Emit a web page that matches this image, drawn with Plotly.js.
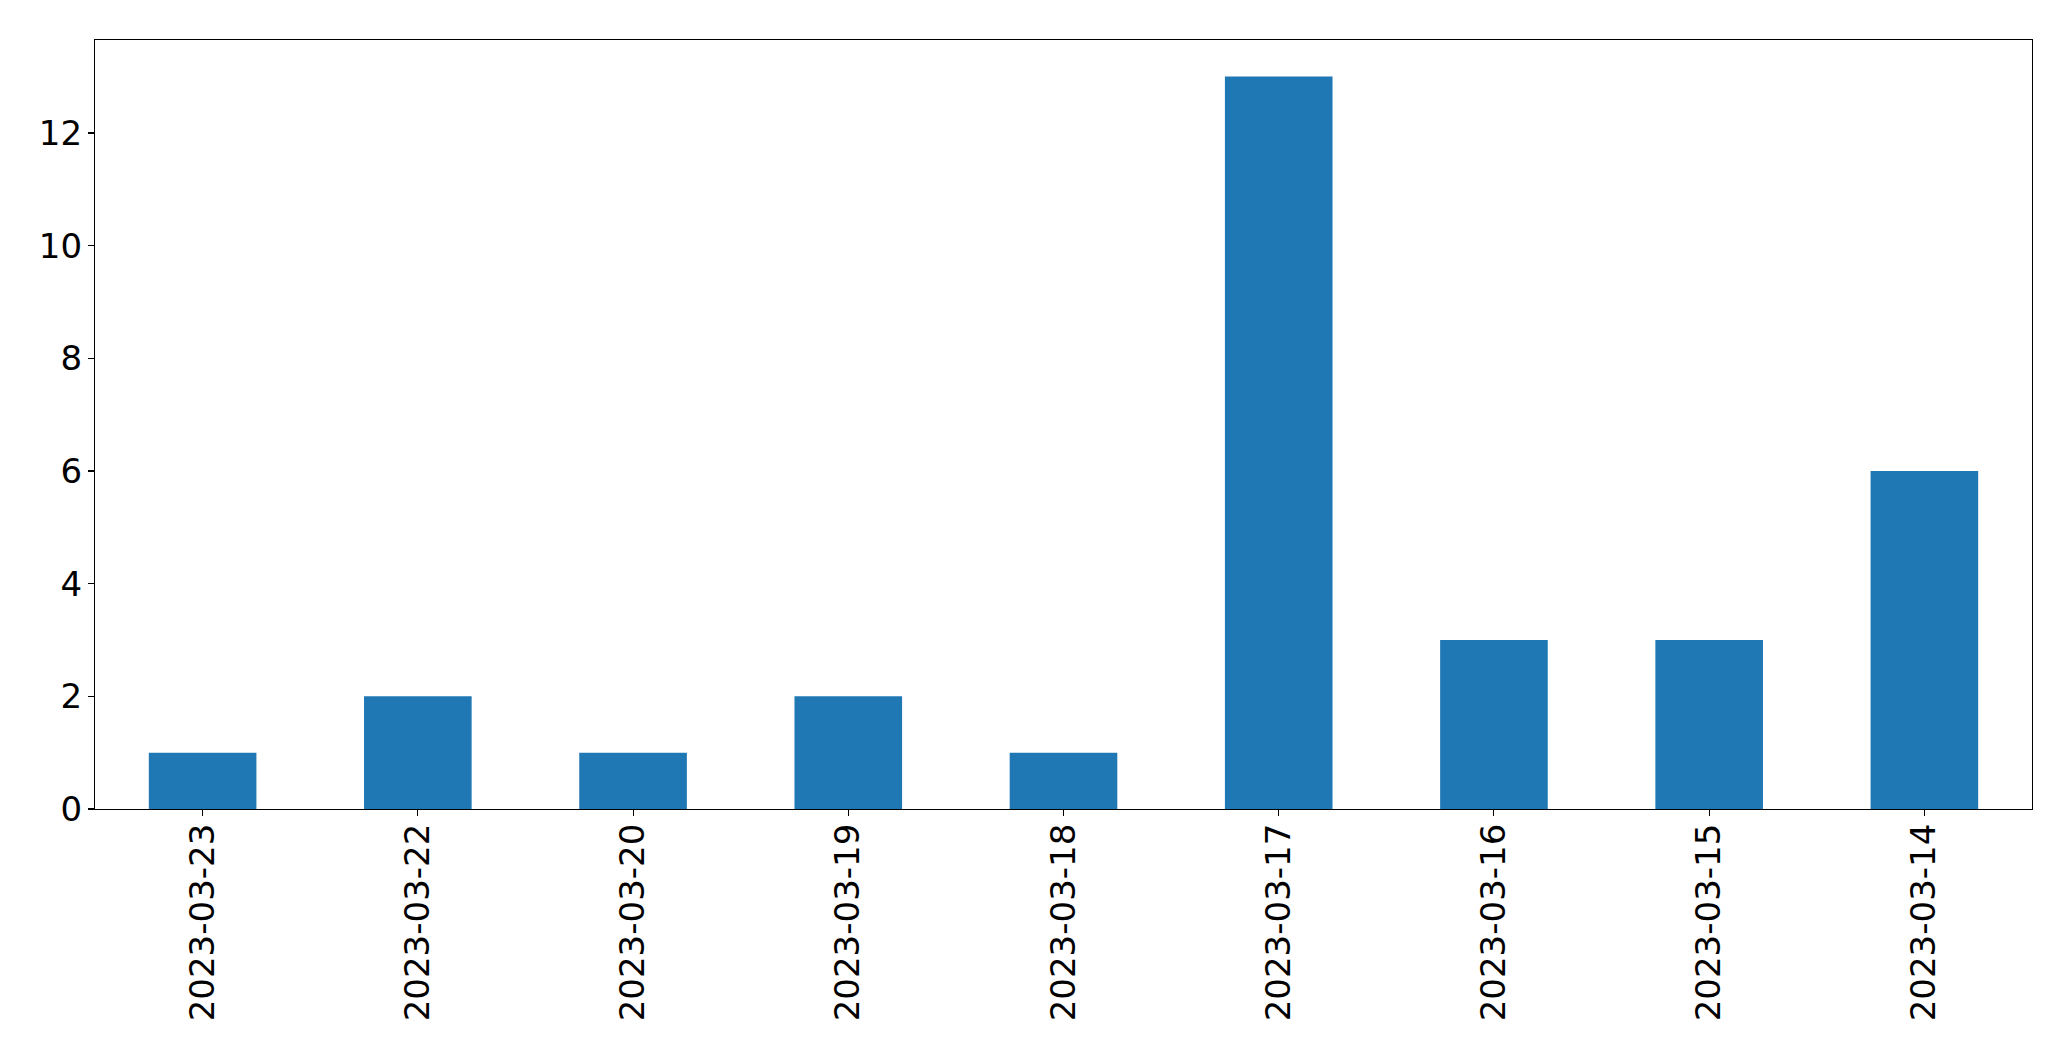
<!DOCTYPE html>
<html>
<head>
<meta charset="utf-8">
<script src="https://cdn.plot.ly/plotly-3.0.1.min.js"></script>
<style>html,body{margin:0;padding:0;background:#fff;}#chart{width:2071px;height:1061px;}</style>
</head>
<body>
<div id="chart"></div>
<script>
const categories = ['2023-03-23','2023-03-22','2023-03-20','2023-03-19','2023-03-18','2023-03-17','2023-03-16','2023-03-15','2023-03-14'];
const values = [1, 2, 1, 2, 1, 13, 3, 3, 6];
const yTicks = [0, 2, 4, 6, 8, 10, 12];

const trace = {
  type: 'bar',
  x: categories,
  y: values,
  width: 0.5,
  marker: {color: '#1f77b4', line: {width: 0}},
  hoverinfo: 'x+y'
};

const layout = {
  width: 2071, height: 1061,
  margin: {l: 94.5, r: 39, t: 39.5, b: 252, pad: 0},
  paper_bgcolor: '#fff', plot_bgcolor: '#fff',
  font: {family: 'DejaVu Sans, sans-serif', size: 34, color: '#000'},
  showlegend: false,
  bargap: 0.5,
  xaxis: {
    type: 'category',
    range: [-0.5, categories.length - 0.5],
    tickangle: -90,
    ticks: 'outside', ticklen: 6, tickwidth: 1.1, tickcolor: '#000',
    showline: true, linecolor: '#000', linewidth: 1.1, mirror: true,
    showgrid: false, zeroline: false,
    tickfont: {family: 'DejaVu Sans, sans-serif', size: 34, color: '#000'},
    ticklabelstandoff: -6
  },
  yaxis: {
    range: [0, 13.65],
    tickvals: yTicks,
    ticktext: yTicks.map(String),
    ticks: 'outside', ticklen: 6, tickwidth: 1.1, tickcolor: '#000',
    showline: true, linecolor: '#000', linewidth: 1.1, mirror: true,
    showgrid: false, zeroline: false,
    tickfont: {family: 'DejaVu Sans, sans-serif', size: 34, color: '#000'},
    ticklabelstandoff: -1
  }
};

Plotly.newPlot('chart', [trace], layout, {displayModeBar: false, staticPlot: true});
</script>
</body>
</html>
